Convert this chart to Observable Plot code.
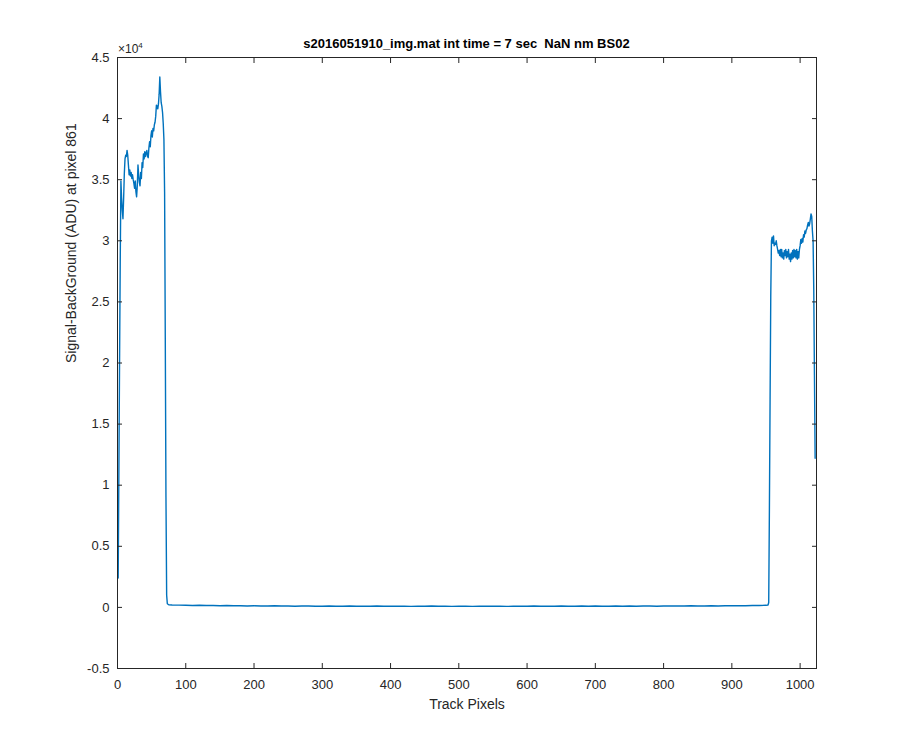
<!DOCTYPE html>
<html>
<head>
<meta charset="utf-8">
<script src="https://cdn.jsdelivr.net/npm/d3@7"></script>
<script src="https://cdn.jsdelivr.net/npm/@observablehq/plot@0.6"></script>
<style>
  html, body { margin: 0; padding: 0; background: #ffffff; }
  #wrap { position: relative; width: 900px; height: 750px; background: #ffffff; font-family: "Liberation Sans", Arial, Helvetica, sans-serif; color: #262626; }
  #chart { position: absolute; left: 0; top: 0; }
  #head { position: absolute; left: 0; top: 0; width: 900px; height: 54px; z-index: 2; pointer-events: none; }
  #title { position: absolute; left: 117px; width: 699px; top: 36px; text-align: center; font-weight: bold; font-size: 13px; line-height: 16px; color: #000; white-space: pre; }
  #exp { position: absolute; left: 118px; top: 39px; font-size: 12px; line-height: 14px; color: #262626; }
  #exp sup { font-size: 8px; vertical-align: 5px; }
</style>
</head>
<body>
<div id="wrap">
  <div id="chart"></div>
  <div id="head">
    <div id="title"></div>
    <div id="exp">×10<sup>4</sup></div>
  </div>
</div>
<script>
// ---- data ----
const titleText = "s2016051910_img.mat int time = 7 sec  NaN nm BS02";
const xLabel = "Track Pixels";
const yLabel = "Signal-BackGround (ADU) at pixel 861";

const xTicks = [0, 100, 200, 300, 400, 500, 600, 700, 800, 900, 1000];
const yTicks = [-5000, 0, 5000, 10000, 15000, 20000, 25000, 30000, 35000, 40000, 45000];
const yTickLabels = ["-0.5", "0", "0.5", "1", "1.5", "2", "2.5", "3", "3.5", "4", "4.5"];

// left bright segment: pixels 1..73
const leftX = [1,2,3,4,5,6,7,8,9,10,11,12,13,14,15,16,17,18,19,20,21,22,23,24,25,26,27,28,29,30,
  31,32,33,34,35,36,37,38,39,40,41,42,43,44,45,46,47,48,49,50,51,52,53,54,55,56,57,58,59,60,
  61,62,63,64,65,66,67,68,69,70,71,72,73];
const leftY = [2400,11000,20000,28300,34900,33500,32500,31800,33500,35500,36700,37000,36900,37400,37000,
  36200,35400,35800,35300,35600,35100,35400,35000,34700,34300,34900,34000,33600,34500,36200,
  35400,34800,34500,35600,35100,36400,36000,37100,36700,37300,36900,37200,37400,36900,36800,
  37600,38100,37700,38600,39000,38500,39200,39000,39500,39700,40200,41100,41000,40800,41200,
  42000,43400,42200,41300,41000,40500,39600,38300,34000,22000,9000,1000,300];

// dark baseline segment
const baseX = [75,80,90,100,110,120,130,140,150,160,170,180,190,200,210,220,230,240,250,260,270,280,290,300,
  310,320,330,340,350,360,370,380,390,400,410,420,430,440,450,460,470,480,490,500,510,520,530,540,
  550,560,570,580,590,600,610,620,630,640,650,660,670,680,690,700,710,720,730,740,750,760,770,780,
  790,800,810,820,830,840,850,860,870,880,890,900,910,920,930,940,950,953,954];
const baseY = [220,200,190,170,160,170,150,160,140,150,130,140,120,130,120,110,130,110,120,100,120,110,100,90,
  110,100,90,110,100,90,100,110,90,100,90,100,80,100,90,110,90,100,80,90,100,80,90,100,
  90,100,80,90,100,90,110,90,100,90,110,100,90,110,100,110,90,100,110,100,110,100,120,110,
  100,120,110,120,110,130,120,110,130,120,130,140,130,140,150,160,170,200,400];

// right bright segment: pixels 955..1022
const rightX = [955,956,957,958,959,960,961,962,963,964,965,966,967,968,969,970,971,972,973,974,975,976,977,978,
  979,980,981,982,983,984,985,986,987,988,989,990,991,992,993,994,995,996,997,998,999,1000,1001,1002,
  1003,1004,1005,1006,1007,1008,1009,1010,1011,1012,1013,1014,1015,1016,1017,1018,1019,1020,1021,1022];
const rightY = [8000,17000,25500,30000,30300,29800,30400,29600,29800,29700,30000,29600,29300,29000,29200,28800,29300,28700,29300,28600,29000,28500,29200,28800,
  29300,28600,29100,28700,29300,28500,28900,28300,29000,28500,29200,28600,29300,28700,29200,28600,29300,28500,29100,28600,29300,29600,30100,29800,
  30200,29900,30500,30300,30800,30600,30900,31000,31300,31500,31200,31400,31800,32200,32000,30800,30000,26000,19000,12200];

// ---- build table ----
const data = [];
leftX.forEach((x, i) => data.push({x, y: leftY[i]}));
baseX.forEach((x, i) => data.push({x, y: baseY[i]}));
rightX.forEach((x, i) => data.push({x, y: rightY[i]}));

document.getElementById("title").textContent = titleText;

const axisColor = "#262626";
const chart = Plot.plot({
  width: 900,
  height: 750,
  marginLeft: 117,
  marginRight: 84,
  marginTop: 57,
  marginBottom: 82,
  style: {fontFamily: "'Liberation Sans', Arial, Helvetica, sans-serif", fontSize: "13px", color: axisColor, background: "#ffffff"},
  x: {domain: [0, 1024]},
  y: {domain: [-5000, 45000]},
  marks: [
    Plot.line(data, {x: "x", y: "y", stroke: "#0072BD", strokeWidth: 1.4}),
    Plot.frame({stroke: axisColor, strokeWidth: 1}),
    Plot.axisX({anchor: "bottom", ticks: xTicks, tickSize: -5, tickPadding: 16, tickFormat: d => String(d), label: null, fontSize: 13, stroke: axisColor, fill: axisColor}),
    Plot.axisX({anchor: "top", ticks: xTicks, tickSize: -5, fill: "none", stroke: axisColor, label: null}),
    Plot.axisY({anchor: "left", ticks: yTicks, tickSize: -5, tickPadding: 13, tickFormat: d => yTickLabels[yTicks.indexOf(d)], label: null, fontSize: 13, stroke: axisColor, fill: axisColor}),
    Plot.axisY({anchor: "right", ticks: yTicks, tickSize: -5, fill: "none", stroke: axisColor, label: null}),
    Plot.text([xLabel], {frameAnchor: "bottom", dy: 40, text: d => d, fontSize: 14, fill: axisColor}),
    Plot.text([yLabel], {frameAnchor: "left", dx: -46, rotate: -90, text: d => d, fontSize: 14, fill: axisColor})
  ]
});
document.getElementById("chart").appendChild(chart);
</script>
</body>
</html>
